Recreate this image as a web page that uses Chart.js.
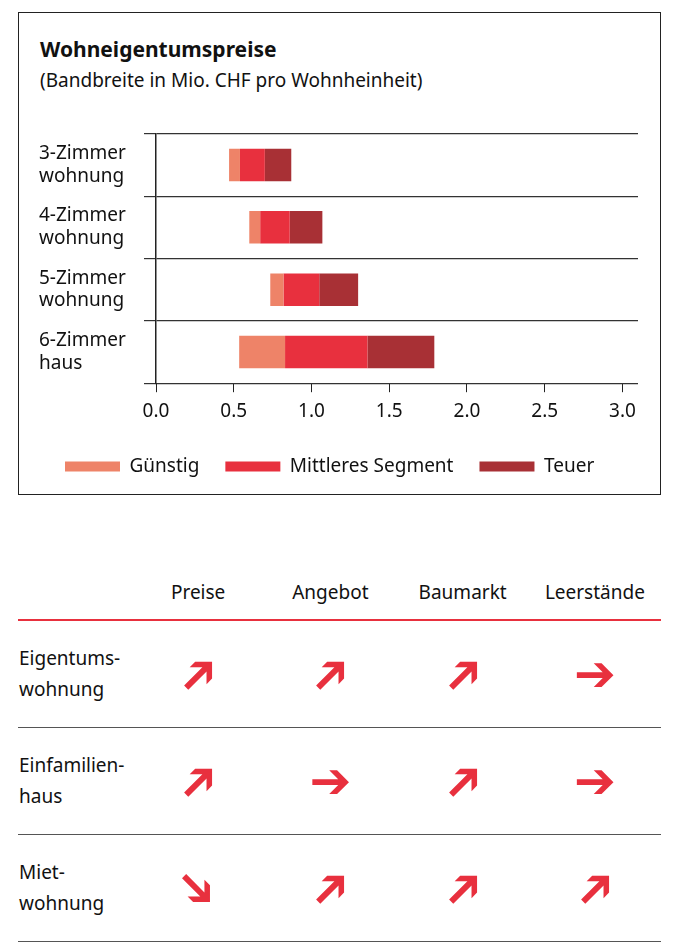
<!DOCTYPE html>
<html>
<head>
<meta charset="utf-8">
<script src="https://cdn.jsdelivr.net/npm/chart.js@4"></script>
<style>
  body { margin: 0; width: 680px; height: 947px; background: #fff; font-family: "Noto Sans", sans-serif; color: #111; position: relative; overflow: hidden; }
  #box { position: absolute; left: 18px; top: 12px; width: 641px; height: 481px; border: 1.5px solid #222; }
  #title { position: absolute; left: 21px; top: 22px; font-size: 21px; font-weight: bold; }
  #sub { position: absolute; left: 21px; top: 54px; font-size: 19px; }
  #chartWrap { position: absolute; left: 0; top: 95px; width: 641px; height: 378px; }
  table { position: absolute; left: 18px; top: 565px; width: 643px; border-collapse: collapse; font-size: 19px; table-layout: fixed; }
  th { font-weight: normal; height: 52px; border-bottom: 2px solid #e8303e; text-align: center; }
  td { height: 104px; border-bottom: 1.5px solid #555; text-align: center; }
  td.lab { text-align: left; line-height: 31px; }
  .arr { display: inline-block; color: #e8303e; font-family: "DejaVu Sans"; font-size: 50px; font-weight: bold; }
</style>
</head>
<body>
<div id="box">
  <div id="title">Wohneigentumspreise</div>
  <div id="sub">(Bandbreite in Mio. CHF pro Wohnheinheit)</div>
  <div id="chartWrap"><canvas id="c"></canvas></div>
</div>
<table id="tbl"><colgroup><col style="width:114px"><col><col><col><col></colgroup></table>
<script>
  var categories = [['3-Zimmer', 'wohnung'], ['4-Zimmer', 'wohnung'], ['5-Zimmer', 'wohnung'], ['6-Zimmer', 'haus']];
  var guenstig = [[0.47, 0.54], [0.60, 0.67], [0.735, 0.82], [0.535, 0.83]];
  var mittleres = [[0.54, 0.70], [0.67, 0.86], [0.82, 1.05], [0.83, 1.36]];
  var teuer = [[0.70, 0.87], [0.86, 1.07], [1.05, 1.30], [1.36, 1.79]];
  var xTicks = [0, 0.5, 1.0, 1.5, 2.0, 2.5, 3.0];

  var tableCols = ['Preise', 'Angebot', 'Baumarkt', 'Leerstände'];
  var tableRows = [['Eigentums-', 'wohnung'], ['Einfamilien-', 'haus'], ['Miet-', 'wohnung']];
  // arrow direction in degrees: -45 up, 0 flat, 45 down
  var trends = [[-45, -45, -45, 0], [-45, 0, -45, 0], [45, -45, -45, -45]];

  function ds(label, data, color) {
    return { label: label, data: data, backgroundColor: color, borderWidth: 0, grouped: false, barPercentage: 0.52, categoryPercentage: 1 };
  }

  new Chart(document.getElementById('c'), {
    type: 'bar',
    data: {
      labels: categories,
      datasets: [ds('Günstig', guenstig, '#ee8368'), ds('Mittleres Segment', mittleres, '#e8303e'), ds('Teuer', teuer, '#a83035')]
    },
    options: {
      indexAxis: 'y',
      responsive: true,
      maintainAspectRatio: false,
      animation: false,
      layout: { padding: { left: 20, right: 22, top: 12 } },
      plugins: {
        tooltip: { enabled: false },
        legend: {
          position: 'bottom',
          align: 'start',
          labels: { boxWidth: 55, boxHeight: 10, padding: 26, color: '#111', font: { family: 'Noto Sans', size: 19 } }
        }
      },
      scales: {
        x: {
          min: 0, max: 3.1,
          afterBuildTicks: function (axis) { axis.ticks = xTicks.map(function (v) { return { value: v }; }); },
          ticks: { color: '#111', font: { family: 'Noto Sans', size: 19 }, padding: 8, callback: function (v) { return v.toFixed(1); } },
          grid: { drawOnChartArea: false, drawTicks: true, tickLength: 9, color: '#222' },
          border: { display: false }
        },
        y: {
          afterFit: function (axis) { axis.width = 117; },
          ticks: { crossAlign: 'far', color: '#111', font: { family: 'Noto Sans', size: 19 }, lineHeight: 1.3 },
          grid: { offset: true, color: '#333', lineWidth: 1.2, tickLength: 12 },
          border: { color: '#222', width: 1.5 }
        }
      }
    }
  });

  var tbl = document.getElementById('tbl');
  var html = '<tr><th></th>' + tableCols.map(function (c) { return '<th>' + c + '</th>'; }).join('') + '</tr>';
  tableRows.forEach(function (r, i) {
    html += '<tr><td class="lab">' + r.join('<br>') + '</td>';
    trends[i].forEach(function (d) {
      html += '<td><span class="arr" style="transform: rotate(' + d + 'deg)">➔</span></td>';
    });
    html += '</tr>';
  });
  tbl.innerHTML += html;
</script>
</body>
</html>
